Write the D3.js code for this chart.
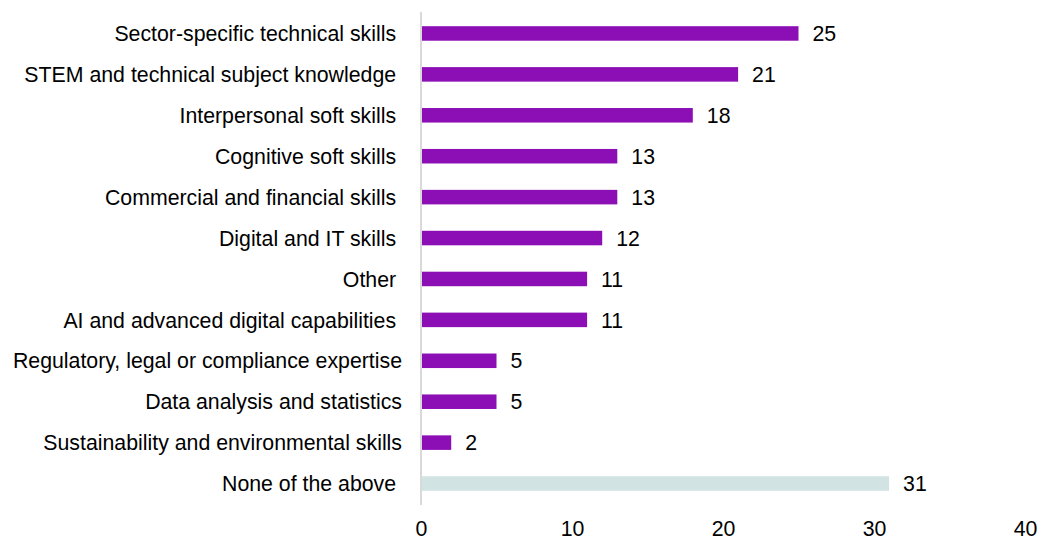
<!DOCTYPE html>
<html>
<head>
<meta charset="utf-8">
<script src="https://cdn.jsdelivr.net/npm/d3@7"></script>
<style>
  html, body { margin: 0; padding: 0; background: #fff; }
  svg { display: block; font-family: "Liberation Sans", Arial, sans-serif; }
</style>
</head>
<body>
<svg id="chart" width="1045" height="540"></svg>
<script>
// Skill categories, top to bottom (trailing spaces kept as in the source labels)
const categories = [
  "Sector-specific technical skills ",
  "STEM and technical subject knowledge ",
  "Interpersonal soft skills ",
  "Cognitive soft skills ",
  "Commercial and financial skills ",
  "Digital and IT skills ",
  "Other ",
  "AI and advanced digital capabilities ",
  "Regulatory, legal or compliance expertise",
  "Data analysis and statistics",
  "Sustainability and environmental skills",
  "None of the above "
];
const values = [25, 21, 18, 13, 13, 12, 11, 11, 5, 5, 2, 31];
const xTicks = [0, 10, 20, 30, 40];

const FONT = 21.3;
const rows = categories.map((c, i) => ({ name: c, value: values[i] }));

const svg = d3.select("#chart");
const x = d3.scaleLinear().domain([0, 40]).range([421, 1025]);
const y = d3.scaleBand().domain(categories).range([13, 504]).paddingInner(0.645).paddingOuter(0.3225);

// Bars
svg.append("g").selectAll("rect")
  .data(rows)
  .join("rect")
  .attr("x", x(0))
  .attr("y", d => y(d.name))
  .attr("width", d => x(d.value) - x(0))
  .attr("height", y.bandwidth())
  .attr("fill", d => d.name.trim() === "None of the above" ? "#d1e3e3" : "#8c0eb5");

// Value labels
svg.append("g").selectAll("text")
  .data(rows)
  .join("text")
  .attr("x", d => x(d.value) + 14)
  .attr("y", d => y(d.name) + y.bandwidth() / 2)
  .attr("dy", "0.36em")
  .attr("font-size", FONT)
  .attr("fill", "#000")
  .text(d => d.value);

// Category axis
const yAxis = svg.append("g")
  .attr("transform", `translate(${x(0)},0)`)
  .call(d3.axisLeft(y).tickSize(0).tickPadding(19));
yAxis.select(".domain").remove();
yAxis.selectAll("text")
  .attr("font-size", FONT)
  .attr("fill", "#000")
  .attr("font-family", "Liberation Sans, Arial, sans-serif")
  .attr("xml:space", "preserve")
  .attr("dy", "0.36em");

// Vertical baseline
svg.append("line")
  .attr("x1", x(0)).attr("x2", x(0))
  .attr("y1", 12).attr("y2", 505)
  .attr("stroke", "#d9d9d9")
  .attr("stroke-width", 2);

// Value axis
const xAxis = svg.append("g")
  .attr("transform", "translate(0,513)")
  .call(d3.axisBottom(x).tickValues(xTicks).tickSize(0).tickPadding(8));
xAxis.select(".domain").remove();
xAxis.selectAll("text")
  .attr("font-size", FONT)
  .attr("fill", "#000")
  .attr("font-family", "Liberation Sans, Arial, sans-serif");
</script>
</body>
</html>
